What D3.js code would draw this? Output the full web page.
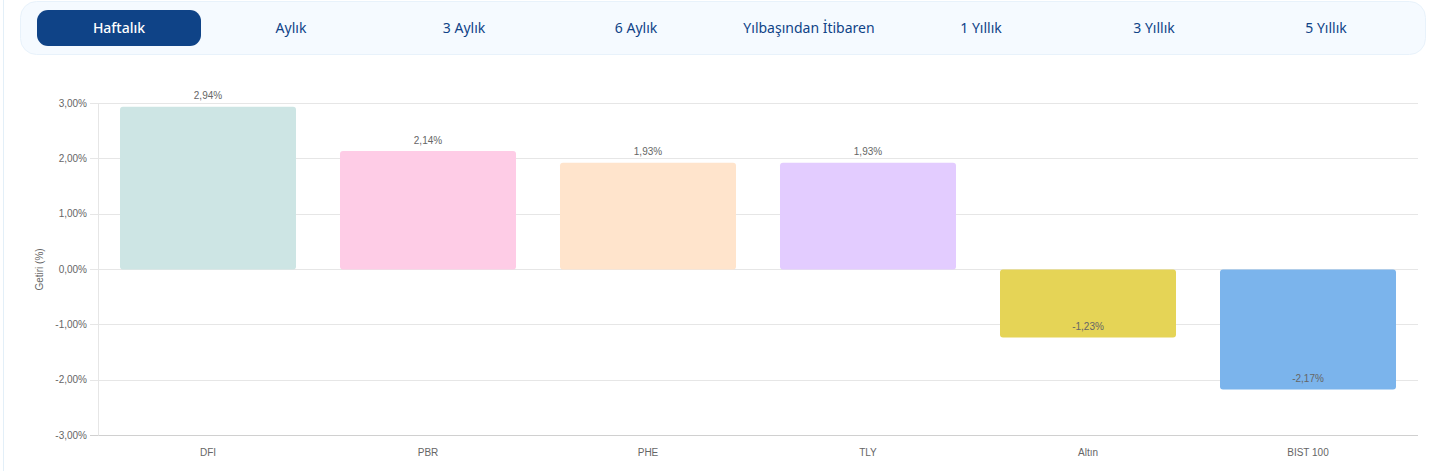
<!DOCTYPE html>
<html lang="tr"><head><meta charset="utf-8">
<script src="https://cdn.jsdelivr.net/npm/d3@7"></script>
<style>html,body{margin:0;padding:0;background:#fff;overflow:hidden}svg{display:block}</style>
</head><body><svg id="c" width="1440" height="471"></svg>
<script>
const tabs = ["Haftalık","Aylık","3 Aylık","6 Aylık","Yılbaşından İtibaren","1 Yıllık","3 Yıllık","5 Yıllık"];
const tabCenters = [119,291,464,636,809,981,1154,1326];
const categories = ["DFI","PBR","PHE","TLY","Altın","BIST 100"];
const values = [2.94,2.14,1.93,1.93,-1.23,-2.17];
const colors = ["#cde5e4","#fecce6","#ffe4cc","#e3ccff","#e5d456","#7bb4ec"];
const ticks = [3,2,1,0,-1,-2,-3];
const fmt = v => v.toFixed(2).replace(".", ",") + "%";
const svg = d3.select("#c");
const sans = "'Liberation Sans',Arial,sans-serif", ui = "'Noto Sans','Open Sans',sans-serif";

svg.append("rect").attr("x",3).attr("y",-2).attr("width",1).attr("height",480).attr("fill","#e3eff8");
svg.append("rect").attr("x",20.5).attr("y",1.5).attr("width",1405).attr("height",53).attr("rx",16)
  .attr("fill","#f5faff").attr("stroke","#e8f2fb");
svg.append("rect").attr("x",37).attr("y",10).attr("width",164).attr("height",36).attr("rx",11).attr("fill","#0f4387");
svg.selectAll(".tab").data(tabs).join("text").attr("class","tab")
  .attr("x",(d,i)=>tabCenters[i]).attr("y",33).attr("text-anchor","middle")
  .attr("font-family",ui).attr("font-size",14)
  .attr("font-weight",(d,i)=>i===0?500:400)
  .attr("fill",(d,i)=>i===0?"#fff":"#0f4387").text(d=>d);

const x = d3.scaleBand().domain(categories).range([98,1418]).paddingInner(0.2).paddingOuter(0.1);
const y = d3.scaleLinear().domain([-3,3]).range([435.5,103.5]);
const crisp = v => Math.floor(y(v)) + 0.5;

const g = svg.append("g");
g.selectAll(".grid").data(ticks).join("line").attr("class","grid")
  .attr("x1",90).attr("x2",1418).attr("y1",crisp).attr("y2",crisp)
  .attr("stroke",d=>d===-3?"#d0d0d0":"#e6e6e6");
g.append("line").attr("x1",98.5).attr("x2",98.5).attr("y1",y(3)).attr("y2",y(-3)).attr("stroke","#e6e6e6");
g.selectAll(".yl").data(ticks).join("text").attr("class","yl")
  .attr("x",87).attr("y",d=>y(d)+3).attr("text-anchor","end")
  .attr("font-family",sans).attr("font-size",10).attr("fill","#666").text(fmt);
g.append("text").attr("transform",`translate(43,${y(0)}) rotate(-90)`).attr("text-anchor","middle")
  .attr("font-family",sans).attr("font-size",10).attr("fill","#666").text("Getiri (%)");

g.selectAll(".bar").data(values).join("rect").attr("class","bar")
  .attr("x",(d,i)=>x(categories[i])).attr("width",x.bandwidth())
  .attr("y",d=>Math.min(y(d),y(0))).attr("height",d=>Math.abs(y(d)-y(0)))
  .attr("rx",3).attr("fill",(d,i)=>colors[i]);
g.selectAll(".vl").data(values).join("text").attr("class","vl")
  .attr("x",(d,i)=>x(categories[i])+x.bandwidth()/2)
  .attr("y",d=>d>=0?y(d)-7.45:y(d)-7.2).attr("text-anchor","middle")
  .attr("font-family",sans).attr("font-size",10).attr("fill","#666").text(fmt);
g.selectAll(".xl").data(categories).join("text").attr("class","xl")
  .attr("x",d=>x(d)+x.bandwidth()/2).attr("y",456).attr("text-anchor","middle")
  .attr("font-family",sans).attr("font-size",10).attr("fill","#666").text(d=>d);
</script></body></html>
